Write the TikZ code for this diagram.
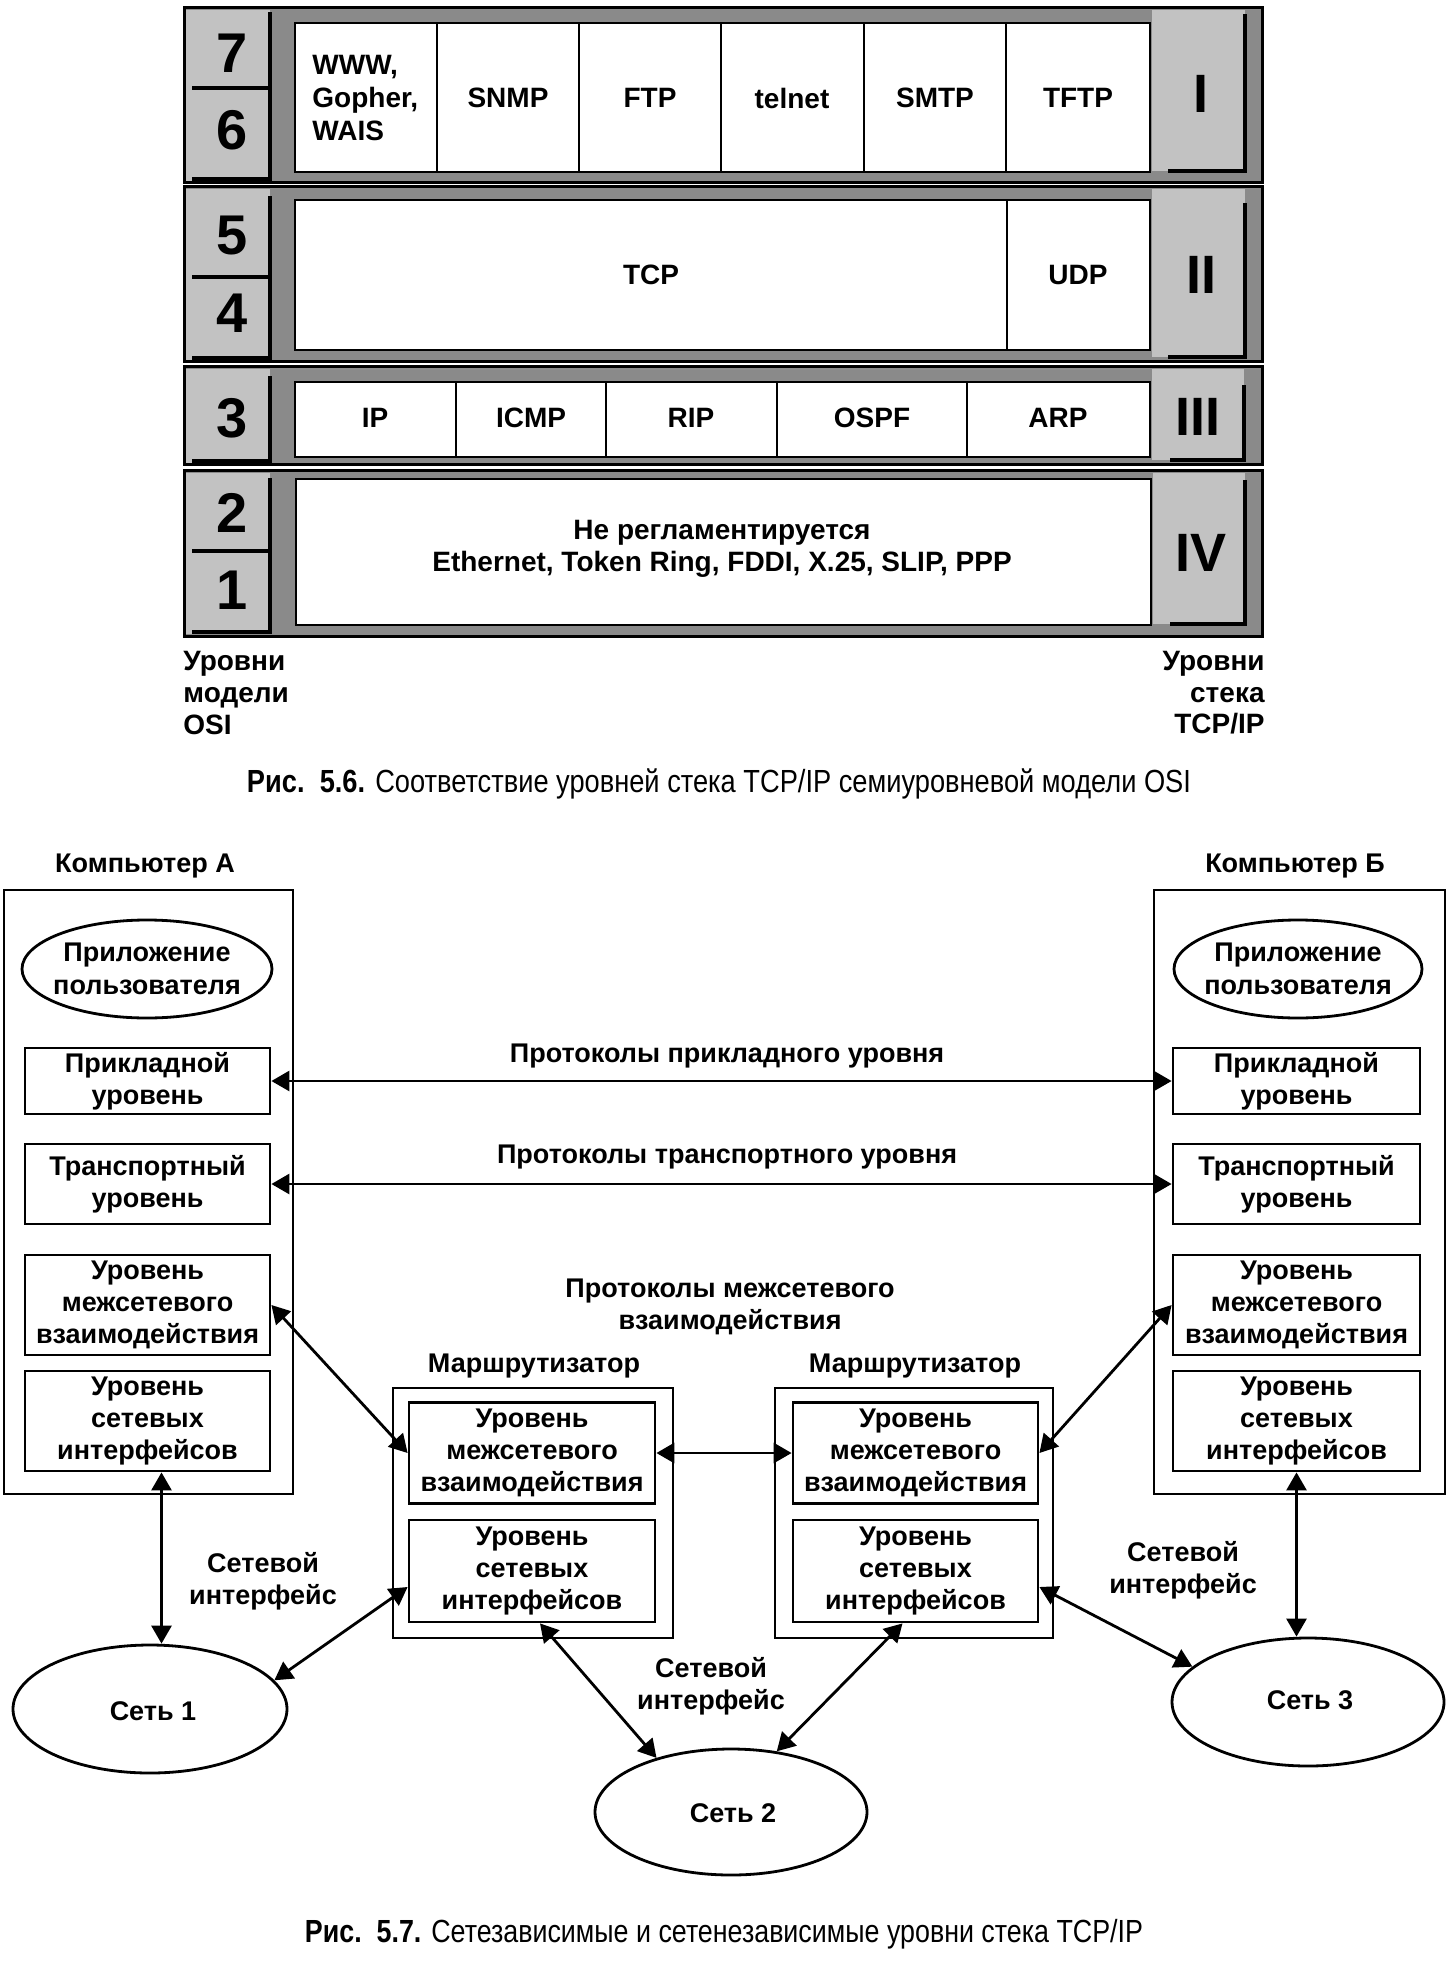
\documentclass[tikz,border=0pt]{standalone}
\usepackage{fontspec}
\setmainfont{Liberation Sans}
\usepackage{graphicx}
\usetikzlibrary{arrows.meta,shapes.geometric,calc}
\begin{document}
\begin{tikzpicture}[x=0.5pt,y=-0.5pt,
  hatch/.style={fill=black!46},
  panelc/.style={fill=black!24},
  shadowline/.style={line width=2pt,line cap=rect},
  frame/.style={line width=1.5pt},
  cellb/.style={fill=white,draw,line width=0.8pt},
  divl/.style={line width=0.8pt},
  tcell/.style={font=\fontsize{14}{16.3}\selectfont\bfseries,inner sep=0pt,align=center},
  digit/.style={font=\fontsize{28}{28}\selectfont\bfseries,inner sep=0pt},
  roman/.style={font=\fontsize{27}{27}\selectfont\bfseries,inner sep=0pt},
  side/.style={font=\fontsize{14}{15.8}\selectfont\bfseries,inner sep=0pt},
  lbl/.style={font=\fontsize{13.5}{16.2}\selectfont\bfseries,inner sep=0pt,align=center},
  lay/.style={draw,line width=1.4pt,inner sep=0pt,align=center,font=\fontsize{13.5}{16}\selectfont\bfseries},
  hostbox/.style={draw,line width=1.4pt,inner sep=0pt},
  oval/.style={ellipse,draw,line width=1.4pt,inner sep=0pt},
  conn/.style={{Triangle[length=9pt,width=10pt]}-{Triangle[length=9pt,width=10pt]},line width=1.4pt},
  capt/.style={inner sep=0pt,font=\fontsize{16}{18}\selectfont}
]
\useasboundingbox (0,0) rectangle (1450,1968);

% ================= Figure 5.6 =================
% Row 1
\fill[hatch] (184,8) rectangle (1262,183);
\fill[panelc] (186,10) rectangle (270,181);
\draw[shadowline] (194,179) -- (270,179) -- (270,14);
\draw[shadowline] (194,88) -- (270,88);
\fill[panelc] (1152,10) rectangle (1245,171);
\draw[shadowline] (1170,171) -- (1245,171) -- (1245,16);
\draw[cellb] (295,23) rectangle (1150,172);
\draw[divl] (437,23) -- (437,172);
\draw[divl] (579,23) -- (579,172);
\draw[divl] (721,23) -- (721,172);
\draw[divl] (864,23) -- (864,172);
\draw[divl] (1006,23) -- (1006,172);
\draw[frame] (184,8) rectangle (1262,183);
\node[digit] (d7) at (232,53) {7};
\node[digit] (d6) at (232,130) {6};
\node[roman] (r1) at (1201,94) {I};
\node[tcell,anchor=west,align=left] (www) at (312,98) {WWW,\\Gopher,\\WAIS};
\node[tcell] (snmp) at (508,98) {SNMP};
\node[tcell] (ftp) at (650,98) {FTP};
\node[tcell] (telnet) at (792,98) {telnet};
\node[tcell] (smtp) at (935,98) {SMTP};
\node[tcell] (tftp) at (1078,98) {TFTP};

% Row 2
\fill[hatch] (184,187) rectangle (1262,362);
\fill[panelc] (186,189) rectangle (270,360);
\draw[shadowline] (194,358) -- (270,358) -- (270,198);
\draw[shadowline] (194,277) -- (270,277);
\fill[panelc] (1152,189) rectangle (1245,357);
\draw[shadowline] (1170,357) -- (1245,357) -- (1245,205);
\draw[cellb] (295,200) rectangle (1150,350);
\draw[divl] (1007,200) -- (1007,350);
\draw[frame] (184,187) rectangle (1262,362);
\node[digit] (d5) at (232,236) {5};
\node[digit] (d4) at (232,313) {4};
\node[roman] (r2) at (1201,275) {II};
\node[tcell] (tcp) at (651,275) {TCP};
\node[tcell] (udp) at (1078,275) {UDP};

% Row 3
\fill[hatch] (184,367) rectangle (1262,465);
\fill[panelc] (186,369) rectangle (270,463);
\draw[shadowline] (194,461) -- (270,461) -- (270,378);
\fill[panelc] (1152,369) rectangle (1244,460);
\draw[shadowline] (1172,460) -- (1244,460) -- (1244,387);
\draw[cellb] (295,382) rectangle (1150,457);
\draw[divl] (456,382) -- (456,457);
\draw[divl] (606,382) -- (606,457);
\draw[divl] (777,382) -- (777,457);
\draw[divl] (967,382) -- (967,457);
\draw[frame] (184,367) rectangle (1262,465);
\node[digit] (d3) at (232,418) {3};
\node[roman] (r3) at (1198,417) {III};
\node[tcell] (ip) at (375,418) {IP};
\node[tcell] (icmp) at (531,418) {ICMP};
\node[tcell] (rip) at (691,418) {RIP};
\node[tcell] (ospf) at (872,418) {OSPF};
\node[tcell] (arp) at (1058,418) {ARP};

% Row 4
\fill[hatch] (184,471) rectangle (1262,636);
\fill[panelc] (186,473) rectangle (270,634);
\draw[shadowline] (194,632) -- (270,632) -- (270,480);
\draw[shadowline] (194,551) -- (270,551);
\fill[panelc] (1153,473) rectangle (1245,624);
\draw[shadowline] (1172,624) -- (1245,624) -- (1245,482);
\draw[cellb] (296,479) rectangle (1151,625);
\draw[frame] (184,471) rectangle (1262,636);
\node[digit] (d2) at (232,513) {2};
\node[digit] (d1) at (232,590) {1};
\node[roman] (r4) at (1201,553) {IV};
\node[tcell] (phys) at (722,549) {Не регламентируется\\Ethernet, Token Ring, FDDI, X.25, SLIP, PPP};

% side labels
\node[side,anchor=west,align=left] (osi) at (183,693) {Уровни\\модели\\OSI};
\node[side,anchor=east,align=right] (tcpip) at (1265,693) {Уровни\\стека\\TCP/IP};

\node[capt] (cap1) at (719,784) {\resizebox{472pt}{\height}{{\bfseries Рис.\ \ 5.6.} Соответствие уровней стека TCP/IP семиуровневой модели OSI}};

% ================= Figure 5.7 =================
\node[hostbox,minimum width=144.5pt,minimum height=302pt] (compA) at (148.5,1192) {};
\node[hostbox,minimum width=145.5pt,minimum height=302pt] (compB) at (1299.5,1192) {};
\node[lbl] (labA) at (145,866) {Компьютер А};
\node[lbl] (labB) at (1295,866) {Компьютер Б};

\node[oval,minimum width=125pt,minimum height=49pt] (appA) at (147,969) {};
\node[lbl] (appAt) at (appA.center) {Приложение\\пользователя};
\node[oval,minimum width=124pt,minimum height=49pt] (appB) at (1298,969) {};
\node[lbl] (appBt) at (appB.center) {Приложение\\пользователя};

\node[lay,minimum width=122.5pt,minimum height=33pt] (A_app) at (147.5,1081) {Прикладной\\уровень};
\node[lay,minimum width=122.5pt,minimum height=40pt] (A_tr) at (147.5,1184) {Транспортный\\уровень};
\node[lay,minimum width=122.5pt,minimum height=50pt] (A_net) at (147.5,1305) {Уровень\\межсетевого\\взаимодействия};
\node[lay,minimum width=122.5pt,minimum height=50pt] (A_if) at (147.5,1421) {Уровень\\сетевых\\интерфейсов};

\node[lay,minimum width=123.5pt,minimum height=33pt] (B_app) at (1296.5,1081) {Прикладной\\уровень};
\node[lay,minimum width=123.5pt,minimum height=40pt] (B_tr) at (1296.5,1184) {Транспортный\\уровень};
\node[lay,minimum width=123.5pt,minimum height=50pt] (B_net) at (1296.5,1305) {Уровень\\межсетевого\\взаимодействия};
\node[lay,minimum width=123.5pt,minimum height=50pt] (B_if) at (1296.5,1421) {Уровень\\сетевых\\интерфейсов};

\node[lbl] (protApp) at (727,1056) {Протоколы прикладного уровня};
\node[lbl] (protTr) at (727,1157) {Протоколы транспортного уровня};
\node[lbl] (protNet) at (730,1307) {Протоколы межсетевого\\взаимодействия};

\node[lbl] (labR1) at (534,1366) {Маршрутизатор};
\node[lbl] (labR2) at (915,1366) {Маршрутизатор};
\node[hostbox,minimum width=140pt,minimum height=125pt] (R1) at (533,1513) {};
\node[hostbox,minimum width=139pt,minimum height=125pt] (R2) at (914,1513) {};
\node[lay,minimum width=123pt,minimum height=50.5pt] (R1n) at (532,1453) {Уровень\\межсетевого\\взаимодействия};
\node[lay,minimum width=123pt,minimum height=51pt] (R1i) at (532,1571) {Уровень\\сетевых\\интерфейсов};
\node[lay,minimum width=122.5pt,minimum height=50.5pt] (R2n) at (915.5,1453) {Уровень\\межсетевого\\взаимодействия};
\node[lay,minimum width=122.5pt,minimum height=51pt] (R2i) at (915.5,1571) {Уровень\\сетевых\\интерфейсов};

\node[oval,minimum width=137pt,minimum height=64pt] (net1) at (150,1709) {};
\node[lbl] (net1t) at (153,1711) {Сеть 1};
\node[oval,minimum width=136pt,minimum height=63pt] (net2) at (731,1812) {};
\node[lbl] (net2t) at (733,1813) {Сеть 2};
\node[oval,minimum width=136pt,minimum height=64pt] (net3) at (1308,1702) {};
\node[lbl] (net3t) at (1310,1700) {Сеть 3};

\node[lbl] (ni1) at (263,1581) {Сетевой\\интерфейс};
\node[lbl] (ni2) at (711,1686) {Сетевой\\интерфейс};
\node[lbl] (ni3) at (1183,1570) {Сетевой\\интерфейс};

\draw[conn] (A_app.east) -- (B_app.west);
\draw[conn] (A_tr.east) -- (B_tr.west);
\draw[conn] (A_net.east) -- (R1n.west);
\draw[conn] (B_net.west) -- (R2n.east);
\draw[conn] (R1n.east) -- (R2n.west);
\draw[conn] ([xshift=7pt]A_if.south) -- ([xshift=7pt]A_if.south |- net1.north);
\draw[conn] ([yshift=-8pt]R1i.west) -- (net1.13);
\draw[conn] ([xshift=4pt]R1i.south) -- (net2.144);
\draw[conn] ([xshift=-6.5pt]R2i.south) -- (net2.53);
\draw[conn] ([yshift=-8pt]R2i.east) -- (net3.163);
\draw[conn] (B_if.south) -- (B_if.south |- net3.north);

\node[capt] (cap2) at (724,1934) {\resizebox{419pt}{\height}{{\bfseries Рис.\ \ 5.7.} Сетезависимые и сетенезависимые уровни стека TCP/IP}};
\end{tikzpicture}
\end{document}
